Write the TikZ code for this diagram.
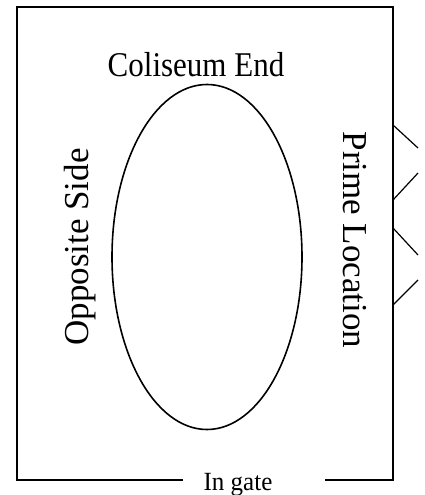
\documentclass[tikz,border=0pt]{standalone}
\usepackage{fontspec}
\setmainfont{Liberation Serif}
\usetikzlibrary{positioning, shapes.geometric}
\tikzset{
  planline/.style={line width=1.2pt, black},
  planlabel/.style={inner sep=0pt, font=\fontsize{#1}{#1}\selectfont},
  arenaoval/.style={ellipse, draw=black, line width=1.6pt, minimum width=190pt,
    minimum height=345pt, inner sep=0pt},
}
\begin{document}
\begin{tikzpicture}[x=1pt,y=-1pt]
  \useasboundingbox (0,0) rectangle (425,495);
  % Grundriss mit Lücke für das Tor
  \draw[planline] (183,480) -- (17,480) -- (17,7) -- (393,7) -- (393,480) -- (325,480);
  % Markierungen an der Prime-Seite
  \foreach \ya/\yb in {125/148,200/173,228/255,305/280}{
    \draw[planline] (393,\ya) -- (418,\yb);
  }
  % Arena
  \node[arenaoval] (arena) at (207,257) {};
  \node[planlabel=31, anchor=base, yscale=1.12] (coliseum) at (196,76.5) {Coliseum End};
  \node[planlabel=35, rotate=90] (opposite) at (80,247) {Opposite Side};
  \node[planlabel=35, rotate=-90] (prime) at (355,240) {Prime Location};
  \node[planlabel=25, anchor=base, yscale=1.05] (ingate) at (238,490) {In gate};
\end{tikzpicture}
\end{document}
